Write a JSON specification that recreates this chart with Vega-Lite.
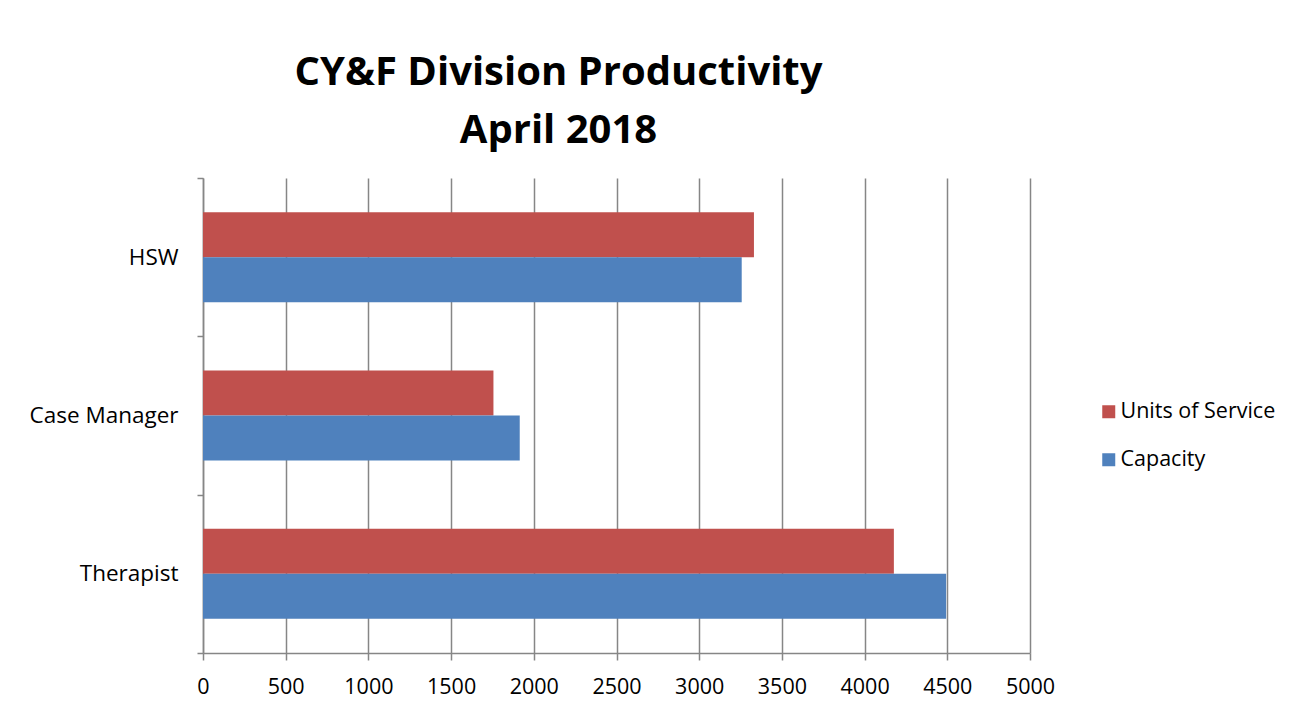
{
  "$schema": "https://vega.github.io/schema/vega-lite/v6.json",
  "width": 827,
  "height": 475,
  "autosize": {"type": "none"},
  "padding": {"left": 203, "top": 178, "right": 276, "bottom": 64},
  "background": "white",
  "title": {
    "text": ["CY&F Division Productivity", "April 2018"],
    "font": "Open Sans",
    "fontWeight": "bold",
    "fontSize": 40,
    "lineHeight": 58,
    "color": "black",
    "anchor": "middle",
    "dx": -58,
    "offset": 16
  },
  "data": {
    "values": [
      {"category": "HSW", "series": "Units of Service", "value": 3331},
      {"category": "HSW", "series": "Capacity", "value": 3257},
      {"category": "Case Manager", "series": "Units of Service", "value": 1756},
      {"category": "Case Manager", "series": "Capacity", "value": 1915},
      {"category": "Therapist", "series": "Units of Service", "value": 4177},
      {"category": "Therapist", "series": "Capacity", "value": 4493}
    ]
  },
  "mark": {"type": "bar"},
  "encoding": {
    "y": {
      "field": "category",
      "type": "nominal",
      "sort": ["HSW", "Case Manager", "Therapist"],
      "scale": {"paddingInner": 0, "paddingOuter": 0},
      "axis": {
        "title": null,
        "tickBand": "extent",
        "tickSize": 6,
        "tickColor": "#868686",
        "tickWidth": 1.5,
        "domainColor": "#868686",
        "domainWidth": 1.5,
        "labelFont": "Open Sans",
        "labelFontSize": 22.5,
        "labelColor": "black",
        "labelPadding": 19,
        "grid": false
      }
    },
    "yOffset": {
      "field": "series",
      "type": "nominal",
      "sort": ["Units of Service", "Capacity"],
      "scale": {"paddingInner": 0, "paddingOuter": 0.76}
    },
    "x": {
      "field": "value",
      "type": "quantitative",
      "scale": {"domain": [0, 5000], "nice": false},
      "axis": {
        "title": null,
        "values": [0, 500, 1000, 1500, 2000, 2500, 3000, 3500, 4000, 4500, 5000],
        "format": "d",
        "labelFlush": false,
        "grid": true,
        "gridColor": "#868686",
        "gridWidth": 1.5,
        "tickSize": 7,
        "tickColor": "#868686",
        "tickWidth": 1.5,
        "domainColor": "#868686",
        "domainWidth": 1.5,
        "labelFont": "Open Sans",
        "labelFontSize": 21.5,
        "labelColor": "black",
        "labelPadding": 16
      }
    },
    "color": {
      "field": "series",
      "type": "nominal",
      "scale": {"domain": ["Units of Service", "Capacity"], "range": ["#C0504D", "#4F81BD"]},
      "legend": {
        "title": null,
        "orient": "none",
        "legendX": 895,
        "legendY": 223,
        "symbolType": "square",
        "symbolSize": 169,
        "symbolStrokeWidth": 0,
        "labelFont": "Open Sans",
        "labelFontSize": 21.5,
        "labelColor": "black",
        "rowPadding": 25,
        "labelOffset": 1
      }
    }
  },
  "config": {"view": {"stroke": null}}
}
